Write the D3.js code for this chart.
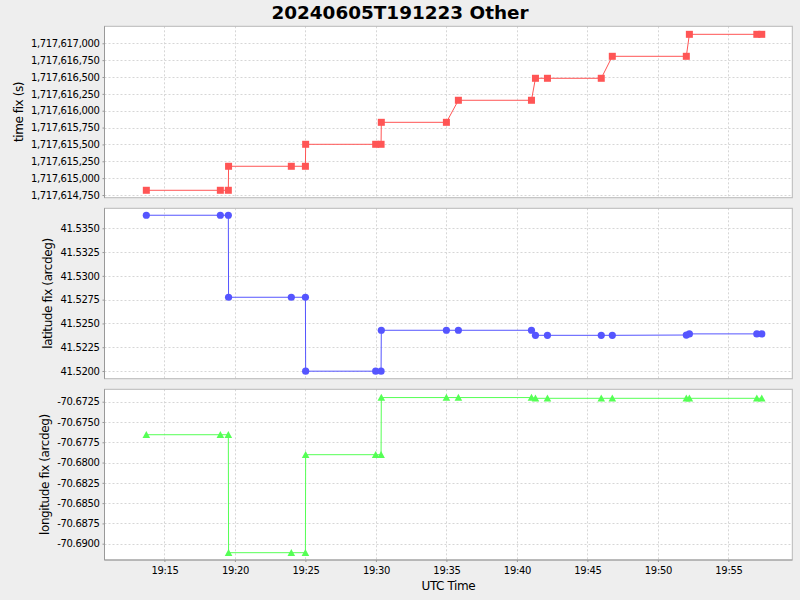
<!DOCTYPE html>
<html><head><meta charset="utf-8">
<script src="https://cdn.jsdelivr.net/npm/d3@7"></script>
<style>
body{margin:0;background:#eeeeee;}
svg{display:block;font-family:"DejaVu Sans",sans-serif;}
</style></head><body>
<svg id="c" width="800" height="600"></svg>
<script>
const title = "20240605T191223 Other";
const utcTimes = ["19:13:43","19:18:58","19:19:32","19:19:33","19:24:00","19:25:00","19:25:01",
  "19:29:59","19:30:22","19:30:23","19:35:00","19:35:51","19:41:02","19:41:19","19:42:10",
  "19:45:59","19:46:46","19:52:01","19:52:14","19:57:01","19:57:22"];
const timeFix = [1717614820,1717614820,1717614820,1717615176,1717615176,1717615176,1717615502,
  1717615502,1717615502,1717615828,1717615828,1717616155,1717616155,1717616481,1717616481,
  1717616481,1717616807,1717616807,1717617133,1717617133,1717617133];
const latFix = [41.53637,41.53637,41.53637,41.52775,41.52775,41.52775,41.51998,
  41.51998,41.51998,41.52428,41.52428,41.52428,41.52428,41.52375,41.52375,
  41.52375,41.52375,41.52378,41.52390,41.52390,41.52390];
const lonFix = [-70.67657,-70.67657,-70.67657,-70.69111,-70.69111,-70.69111,-70.67903,
  -70.67903,-70.67903,-70.67199,-70.67199,-70.67199,-70.67199,-70.67208,-70.67208,
  -70.67208,-70.67208,-70.67208,-70.67208,-70.67208,-70.67208];
const xTickLabels = ["19:15","19:20","19:25","19:30","19:35","19:40","19:45","19:50","19:55"];
const timeTicks = [1717614750,1717615000,1717615250,1717615500,1717615750,1717616000,
  1717616250,1717616500,1717616750,1717617000];
const latTicks = [41.5200,41.5225,41.5250,41.5275,41.5300,41.5325,41.5350];
const lonTicks = [-70.6900,-70.6875,-70.6850,-70.6825,-70.6800,-70.6775,-70.6750,-70.6725];
const xAxisLabel = "UTC Time";
const yLabels = ["time fix (s)","latitude fix (arcdeg)","longitude fix (arcdeg)"];
const seriesColors = ["#ff5555","#5555ff","#55ff55"];

const svg = d3.select("#c");
svg.append("rect").attr("width",800).attr("height",600).attr("fill","#eeeeee");

const day = "2024-06-05 ";
const parse = d3.utcParse("%Y-%m-%d %H:%M:%S");
const times = utcTimes.map(t => parse(day + t));
const X0 = 104.5, X1 = 792.3;
const x = d3.scaleUtc().domain([parse(day+"19:10:45"), parse(day+"19:59:32")]).range([X0, X1]);
const xTicks = xTickLabels.map(t => parse(day + t + ":00"));

const loc = d3.formatLocale({decimal:".", thousands:",", grouping:[3], currency:["$",""], minus:"-"});
const panels = [
  {vals: timeFix, ticks: timeTicks, dom:[1717614710,1717617252], top:26.3, bot:197.7, fmt: loc.format(","), shape:"square"},
  {vals: latFix, ticks: latTicks, dom:[41.51919,41.5371], top:208.3, bot:378.7, fmt: loc.format(".4f"), shape:"circle"},
  {vals: lonFix, ticks: lonTicks, dom:[-70.69201,-70.67097], top:389.3, bot:560, fmt: loc.format(".4f"), shape:"triangle"}
];

svg.append("text").attr("x",400).attr("y",19).attr("text-anchor","middle")
  .attr("font-size",18.4).attr("font-weight","bold").attr("fill","#000").text(title);

panels.forEach((p, i) => {
  const y = d3.scaleLinear().domain(p.dom).range([p.bot, p.top]);
  const g = svg.append("g");
  g.append("rect").attr("x",X0).attr("y",p.top).attr("width",X1-X0).attr("height",p.bot-p.top)
    .attr("fill","#fff");
  // grid
  g.selectAll(".hg").data(p.ticks).join("line")
    .attr("x1",X0).attr("x2",X1).attr("y1",d=>Math.round(y(d))+0.5).attr("y2",d=>Math.round(y(d))+0.5)
    .attr("stroke","#d6d6d6").attr("stroke-dasharray","2,2");
  g.selectAll(".vg").data(xTicks).join("line")
    .attr("y1",p.top).attr("y2",p.bot).attr("x1",d=>Math.round(x(d))+0.5).attr("x2",d=>Math.round(x(d))+0.5)
    .attr("stroke","#d6d6d6").attr("stroke-dasharray","2,2");
  g.append("rect").attr("x",X0).attr("y",p.top).attr("width",X1-X0).attr("height",p.bot-p.top)
    .attr("fill","none").attr("stroke","#b8b8b8").attr("stroke-width",1);
  // y axis
  const ax = svg.append("g").attr("transform",`translate(${X0},0)`)
    .call(d3.axisLeft(y).tickValues(p.ticks).tickFormat(p.fmt).tickSize(2).tickPadding(3));
  ax.select(".domain").attr("stroke","#999").attr("d",`M0,${p.top}V${p.bot}`);
  ax.selectAll(".tick line").attr("stroke","#999");
  ax.selectAll(".tick text").attr("fill","#000").attr("font-size",10)
    .attr("font-family","DejaVu Sans").attr("letter-spacing","-0.35px");
  const bb = ax.node().getBBox();
  svg.append("text")
    .attr("transform",`translate(${X0 + bb.x - 12.3},${(p.top+p.bot)/2}) rotate(-90)`)
    .attr("text-anchor","middle").attr("dy","0.35em").attr("font-size",12)
    .attr("letter-spacing","-0.4px").attr("fill","#000").text(yLabels[i]);
  // series
  const color = seriesColors[i];
  const pts = times.map((t, k) => [x(t), y(p.vals[k])]);
  g.append("path").attr("d", d3.line()(pts)).attr("fill","none").attr("stroke",color).attr("stroke-width",1);
  if (p.shape === "square") {
    g.selectAll(".m").data(pts).join("rect").attr("x",d=>d[0]-3.5).attr("y",d=>d[1]-3.5)
      .attr("width",7).attr("height",7).attr("fill",color);
  } else if (p.shape === "circle") {
    g.selectAll(".m").data(pts).join("circle").attr("cx",d=>d[0]).attr("cy",d=>d[1])
      .attr("r",3.6).attr("fill",color);
  } else {
    g.selectAll(".m").data(pts).join("path")
      .attr("d",d=>`M${d[0]},${d[1]-3.8}L${d[0]+3.8},${d[1]+3.2}L${d[0]-3.8},${d[1]+3.2}Z`)
      .attr("fill",color);
  }
  if (i === 2) {
    const xa = svg.append("g").attr("transform",`translate(0,${p.bot})`)
      .call(d3.axisBottom(x).tickValues(xTicks).tickFormat(d3.utcFormat("%H:%M")).tickSize(2).tickPadding(5));
    xa.select(".domain").attr("stroke","#999").attr("d",`M${X0},0H${X1}`);
    xa.selectAll(".tick line").attr("stroke","#999");
    xa.selectAll(".tick text").attr("fill","#000").attr("font-size",10)
      .attr("font-family","DejaVu Sans").attr("letter-spacing","-0.35px");
    svg.append("text").attr("x",(X0+X1)/2).attr("y",590).attr("text-anchor","middle")
      .attr("font-size",12).attr("letter-spacing","-0.4px").attr("fill","#000").text(xAxisLabel);
  }
});
</script>
</body></html>
